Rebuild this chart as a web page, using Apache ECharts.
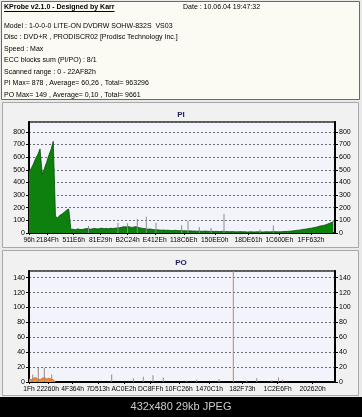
<!DOCTYPE html>
<html>
<head>
<meta charset="utf-8">
<script src="https://cdn.jsdelivr.net/npm/echarts@6/dist/echarts.min.js"></script>
<style>
html,body{margin:0;padding:0;background:#e8e8e8;}
#c{width:362px;height:417px;}
</style>
</head>
<body>
<div id="c"></div>
<script>
// ---------- header texts ----------
const TITLE = 'KProbe v2.1.0 - Designed by Karr';
const DATE_TEXT = 'Date : 10.06.04 19:47:32';
const INFO_LINES = [
  'Model : 1-0-0-0 LITE-ON DVDRW SOHW-832S  VS03',
  'Disc : DVD+R , PRODISCR02 [Prodisc Technology Inc.]',
  'Speed : Max',
  'ECC blocks sum (PI/PO) : 8/1',
  'Scanned range : 0 - 22AF82h',
  'PI Max= 878 , Average= 60,26 , Total= 963296',
  'PO Max= 149 , Average= 0,10 , Total= 9661'
];
const FOOTER = '432x480 29kb JPEG';

// ---------- axes ----------
const X_MAX = 0x22AF82;
const PI_Y_MAX = 878;
const PO_Y_MAX = 149;
const PI_Y_STEP = 100;
const PO_Y_STEP = 20;
const PI_X_TICKS = [0x96, 0x2184F, 0x511E6, 0x81E29, 0xB2C24, 0xE412E, 0x118C6E, 0x150EE0, 0x18DE61, 0x1C600E, 0x1FF632];
const PO_X_TICKS = [0x1F, 0x22260, 0x4F364, 0x7D513, 0xAC0E2, 0xDC8FF, 0x10FC26, 0x1470C1, 0x182F73, 0x1C2E6F, 0x202620];

// ---------- PI data (sample spacing in sectors) ----------
const PI_STEP = 16384;
const PI_VALUES = [
  490, 510, 545, 590, 620, 665, 465, 510, 560, 615, 660, 725,
  130, 120, 140, 150, 165, 180, 190,
  28, 30, 26, 32, 29, 27, 31, 35, 33,
  30, 34, 36, 32, 35, 38, 34, 36, 33, 37, 35, 38, 40,
  42, 45, 50, 48, 52, 46, 44, 50, 48, 42,
  38, 36, 33, 30, 32, 28, 26, 25, 24, 22,
  23, 21, 22, 20, 19, 21, 20, 18, 19, 17,
  18, 16, 17, 15, 16, 14, 15, 13, 14, 15, 13, 12, 14, 12, 13, 11, 12, 13, 11, 12,
  10, 11, 10, 9, 10, 11, 9, 10, 8, 9, 10, 8, 9, 10, 9, 8, 9, 10, 9, 10, 11, 10, 9, 10, 11,
  12, 12, 14, 15, 18, 20, 22, 24, 28, 30, 32, 36, 38, 42, 45, 50, 55, 58, 62, 68, 75, 82, 90
];
const PI_SPIKE_POS = [442000, 661000, 732000, 804500, 871500, 943400, 1134000, 1181000, 1265000, 1352000, 1448600, 1716000, 1815000];
const PI_SPIKE_VAL = [56, 80, 78, 110, 128, 82, 61, 95, 48, 40, 152, 27, 60];

// ---------- PO data ----------
const PO_STEP = 16384;
const PO_VALUES = [4, 3, 5, 6, 4, 3, 5, 6, 4, 5, 4, 3, 0];
const PO_SPIKE_POS = [27500, 69100, 113700, 168600, 614300, 774800, 849100, 921100, 997700, 1171500, 1245800, 1411400, 1617200, 1691500, 1802900, 1853400, 1884600];
const PO_SPIKE_VAL = [10, 19, 19, 10, 10, 5, 7, 9, 6, 2, 3, 4, 2, 5, 2, 6, 3];
const PO_MAX_POS = [1517700];
const PO_MAX_VAL = [149];

// ---------- helpers ----------
const FONT = 'Liberation Sans, Arial, sans-serif';
const hex = v => Math.round(v).toString(16).toUpperCase() + 'h';
const pairs = (pos, val) => pos.map((p, i) => [p, val[i]]);
const sampled = (step, vals) => vals.map((v, i) => [i * step, v]);

function measure(text, font) {
  const ctx = document.createElement('canvas').getContext('2d');
  ctx.font = font;
  return ctx.measureText(text).width;
}

const GRID_L = 29, GRID_W = 306;
const grids = [
  {left: GRID_L, top: 122, width: GRID_W, height: 111},
  {left: GRID_L, top: 271, width: GRID_W, height: 111}
].map(g => Object.assign(g, {show: true, backgroundColor: '#f3f3fc', borderColor: '#5a5a5a', borderWidth: 2, containLabel: false}));

function xAxis(idx, ticks) {
  return {
    gridIndex: idx, type: 'value', min: 0, max: X_MAX,
    axisLine: {show: true, lineStyle: {color: '#000', width: 2}},
    axisTick: {show: true, customValues: ticks, length: 2, lineStyle: {color: '#000'}},
    axisLabel: {customValues: ticks, formatter: hex, fontSize: 6.7, color: '#000', margin: 4, fontFamily: FONT},
    splitLine: {show: false}
  };
}
function yAxis(idx, max, step, pos) {
  return {
    gridIndex: idx, type: 'value', min: 0, max: max, interval: step, position: pos,
    axisLine: {show: true, lineStyle: {color: '#000', width: 2}},
    axisTick: {show: true, length: 3, lineStyle: {color: '#000'}},
    axisLabel: {fontSize: 7, color: '#000', margin: 4, fontFamily: FONT, showMaxLabel: false},
    splitLine: {show: pos === 'left', lineStyle: {color: '#6e6e6e', type: [2, 2], width: 1}}
  };
}

const titleFont = 'bold 7px ' + FONT;
const titleW = measure(TITLE, titleFont);

const graphic = [
  {type: 'rect', z: -10, shape: {x: 0, y: 0, width: 362, height: 397}, style: {fill: '#e9e9e9'}},
  {type: 'rect', z: -9, shape: {x: 1.5, y: 1.5, width: 358, height: 98}, style: {fill: '#fbfbf4', stroke: '#6a6a6a', lineWidth: 1}},
  {type: 'rect', z: -9, shape: {x: 2.5, y: 102.5, width: 356, height: 145}, style: {fill: '#f1f1f1', stroke: '#a8a8a8', lineWidth: 1}},
  {type: 'rect', z: -9, shape: {x: 2.5, y: 250.5, width: 356, height: 145}, style: {fill: '#f1f1f1', stroke: '#a8a8a8', lineWidth: 1}},
  {type: 'rect', z: -9, shape: {x: 0, y: 397, width: 362, height: 20}, style: {fill: '#000'}},
  {type: 'text', x: 4, y: 7, style: {text: TITLE, font: titleFont, fill: '#000', verticalAlign: 'middle'}},
  {type: 'line', shape: {x1: 4, y1: 11.5, x2: 4 + titleW, y2: 11.5}, style: {stroke: '#000', lineWidth: 1}},
  {type: 'text', x: 183, y: 7, style: {text: DATE_TEXT, font: '7px ' + FONT, fill: '#000', verticalAlign: 'middle'}},
  {type: 'text', x: 181, y: 115, style: {text: 'PI', font: 'bold 8px ' + FONT, fill: '#1c1c5c', align: 'center', verticalAlign: 'middle'}},
  {type: 'text', x: 181, y: 263, style: {text: 'PO', font: 'bold 8px ' + FONT, fill: '#1c1c5c', align: 'center', verticalAlign: 'middle'}},
  {type: 'text', x: 181, y: 407, style: {text: FOOTER, font: '11px ' + FONT, fill: '#cccccc', align: 'center', verticalAlign: 'middle'}}
];
const LINE_Y = [26, 37.5, 49, 60.5, 72, 83.5, 95];
INFO_LINES.forEach((t, i) => graphic.push({type: 'text', x: 4, y: LINE_Y[i], style: {text: t, font: '7px ' + FONT, fill: '#000', verticalAlign: 'middle'}}));

const chart = echarts.init(document.getElementById('c'), null, {renderer: 'canvas'});
chart.setOption({
  animation: false,
  backgroundColor: 'transparent',
  grid: grids,
  xAxis: [xAxis(0, PI_X_TICKS), xAxis(1, PO_X_TICKS)],
  yAxis: [
    yAxis(0, PI_Y_MAX, PI_Y_STEP, 'left'), yAxis(0, PI_Y_MAX, PI_Y_STEP, 'right'),
    yAxis(1, PO_Y_MAX, PO_Y_STEP, 'left'), yAxis(1, PO_Y_MAX, PO_Y_STEP, 'right')
  ],
  graphic: graphic,
  series: [
    {type: 'line', xAxisIndex: 0, yAxisIndex: 0, data: sampled(PI_STEP, PI_VALUES), showSymbol: false,
     lineStyle: {color: '#005200', width: 0.8}, areaStyle: {color: '#0e800e', opacity: 1}, z: 2},
    {type: 'bar', xAxisIndex: 0, yAxisIndex: 0, data: pairs(PI_SPIKE_POS, PI_SPIKE_VAL), barWidth: 1,
     itemStyle: {color: '#8c8c8c'}, z: 3},
    {type: 'line', xAxisIndex: 1, yAxisIndex: 2, data: sampled(PO_STEP, PO_VALUES), showSymbol: false,
     lineStyle: {color: '#e0600e', width: 0.8}, areaStyle: {color: '#f58a2c', opacity: 1}, z: 2},
    {type: 'bar', xAxisIndex: 1, yAxisIndex: 2, data: pairs(PO_SPIKE_POS, PO_SPIKE_VAL), barWidth: 1, barGap: '-100%',
     itemStyle: {color: '#9a8a80'}, z: 3},
    {type: 'bar', xAxisIndex: 1, yAxisIndex: 2, data: pairs(PO_MAX_POS, PO_MAX_VAL), barWidth: 1, barGap: '-100%',
     itemStyle: {color: '#c8845a'}, z: 3}
  ]
});
</script>
</body>
</html>
